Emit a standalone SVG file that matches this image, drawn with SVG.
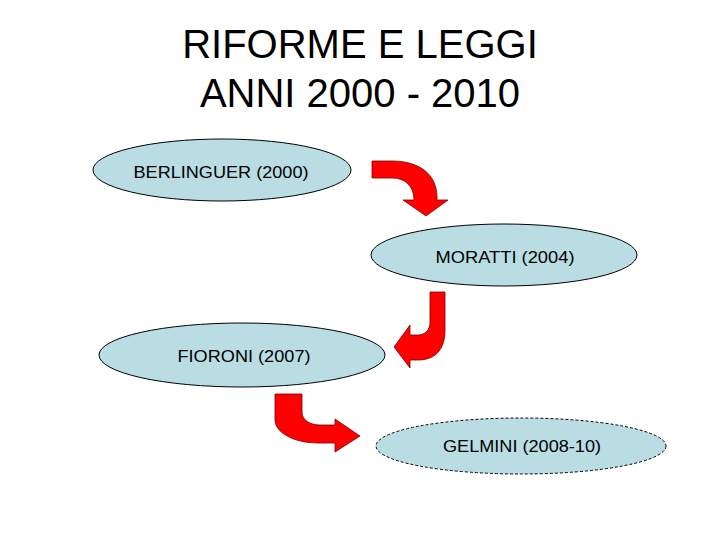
<svg xmlns="http://www.w3.org/2000/svg" width="720" height="540" viewBox="0 0 720 540">
<style>
.title{font-family:"Liberation Sans",Arial,sans-serif;font-size:40px;fill:#000;text-anchor:middle}
.node ellipse{fill:#b9dde3;stroke:#000;stroke-width:1}
.node text{font-family:"Liberation Sans",Arial,sans-serif;font-size:16px;fill:#000;text-anchor:middle}
.arrow{fill:#ff0000;stroke:#7a0000;stroke-width:0.8}
</style>
<rect width="720" height="540" fill="#fff"/>
<text class="title" x="360" y="58">RIFORME E LEGGI</text>
<text class="title" x="360" y="107">ANNI 2000 - 2010</text>
<g id="berlinguer" class="node">
<ellipse cx="222" cy="170" rx="129" ry="31"/>
<text x="221" y="178" textLength="175" lengthAdjust="spacingAndGlyphs">BERLINGUER (2000)</text>
</g>
<g id="moratti" class="node">
<ellipse cx="504" cy="255" rx="133" ry="31"/>
<text x="505" y="263" textLength="139" lengthAdjust="spacingAndGlyphs">MORATTI (2004)</text>
</g>
<g id="fioroni" class="node">
<ellipse cx="242" cy="355" rx="143" ry="32"/>
<text x="244" y="362" textLength="133" lengthAdjust="spacingAndGlyphs">FIORONI (2007)</text>
</g>
<g id="gelmini" class="node">
<ellipse cx="521" cy="446" rx="145" ry="28" stroke-dasharray="3,2"/>
<text x="522" y="452" textLength="158" lengthAdjust="spacingAndGlyphs">GELMINI (2008-10)</text>
</g>
<g id="connectors">
<path class="arrow" d="M372,161 L392,161 C420,161 437,175 437,197 L437,200 L448,200 L426,216 L403,200 L414,200 C414,186 405,178 392,178 L372,178 Z"/>
<path class="arrow" d="M430,292 L445,292 L445,330 C445,350 435,360 418,360 L410,360 L410,368 L394,347 L410,325 L410,335 L418,335 C425,335 430,330 430,322 Z"/>
<path class="arrow" d="M275,394 L302,394 L302,412 C302,420 310,425 320,425 L335,425 L335,419 L360,436 L335,452 L335,443 L318,443 C293,443 275,432 275,420 Z"/>
</g>
</svg>
